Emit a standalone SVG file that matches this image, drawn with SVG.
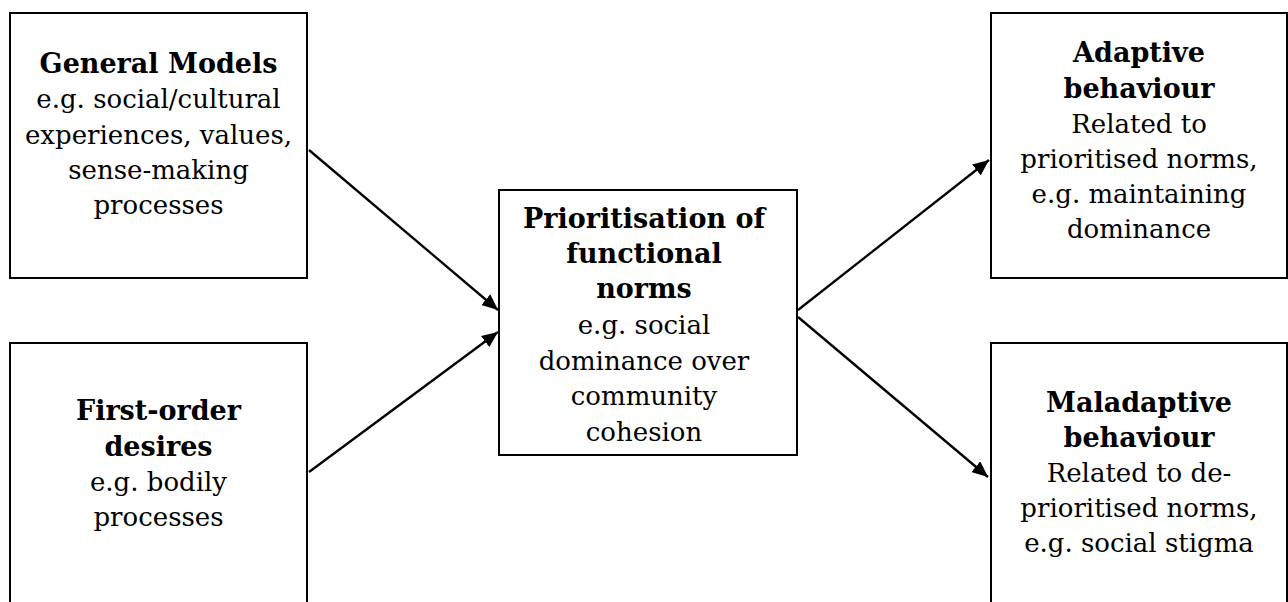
<svg xmlns="http://www.w3.org/2000/svg" width="1288" height="602" viewBox="0 0 1288 602">
<style>
.box{fill:#fff;stroke:#000;stroke-width:2}
.t{font-family:"DejaVu Serif","Liberation Serif",serif;font-size:26px;fill:#000;text-anchor:middle}
.b{font-weight:bold;font-size:27px}
.c{stroke:#000;stroke-width:2.3;fill:none}
</style>
<defs>
<marker id="ah" markerUnits="userSpaceOnUse" markerWidth="18" markerHeight="14" refX="16" refY="7" orient="auto">
<path d="M0,0 L16,7 L0,14 Z" fill="#000"/>
</marker>
</defs>
<rect width="1288" height="602" fill="#fff"/>
<g id="general-models">
<rect class="box" x="10" y="13" width="297" height="265"/>
<text class="t"><tspan class="b" x="158.5" y="73">General Models</tspan><tspan x="158.5" y="108">e.g. social/cultural</tspan><tspan x="158.5" y="144">experiences, values,</tspan><tspan x="158.5" y="179">sense-making</tspan><tspan x="158.5" y="214">processes</tspan></text>
</g>
<g id="first-order-desires">
<rect class="box" x="10" y="343" width="297" height="270"/>
<text class="t"><tspan class="b" x="158.5" y="420">First-order</tspan><tspan class="b" x="158.5" y="456">desires</tspan><tspan x="158.5" y="491">e.g. bodily</tspan><tspan x="158.5" y="526">processes</tspan></text>
</g>
<g id="prioritisation">
<rect class="box" x="499" y="190" width="298" height="265"/>
<text class="t"><tspan class="b" x="644" y="228">Prioritisation of</tspan><tspan class="b" x="644" y="263">functional</tspan><tspan class="b" x="644" y="298">norms</tspan><tspan x="644" y="334">e.g. social</tspan><tspan x="644" y="370">dominance over</tspan><tspan x="644" y="405">community</tspan><tspan x="644" y="441">cohesion</tspan></text>
</g>
<g id="adaptive">
<rect class="box" x="991" y="13" width="296" height="265"/>
<text class="t"><tspan class="b" x="1139" y="62">Adaptive</tspan><tspan class="b" x="1139" y="98">behaviour</tspan><tspan x="1139" y="133">Related to</tspan><tspan x="1139" y="168">prioritised norms,</tspan><tspan x="1139" y="203">e.g. maintaining</tspan><tspan x="1139" y="238">dominance</tspan></text>
</g>
<g id="maladaptive">
<rect class="box" x="991" y="343" width="296" height="270"/>
<text class="t"><tspan class="b" x="1139" y="412">Maladaptive</tspan><tspan class="b" x="1139" y="447">behaviour</tspan><tspan x="1139" y="482">Related to de-</tspan><tspan x="1139" y="517">prioritised norms,</tspan><tspan x="1139" y="552">e.g. social stigma</tspan></text>
</g>
<g id="connectors">
<line class="c" x1="309" y1="150" x2="498" y2="310" marker-end="url(#ah)"/>
<line class="c" x1="309" y1="472" x2="498" y2="332" marker-end="url(#ah)"/>
<line class="c" x1="798" y1="310" x2="989" y2="160" marker-end="url(#ah)"/>
<line class="c" x1="798" y1="317" x2="988" y2="477" marker-end="url(#ah)"/>
</g>
</svg>
